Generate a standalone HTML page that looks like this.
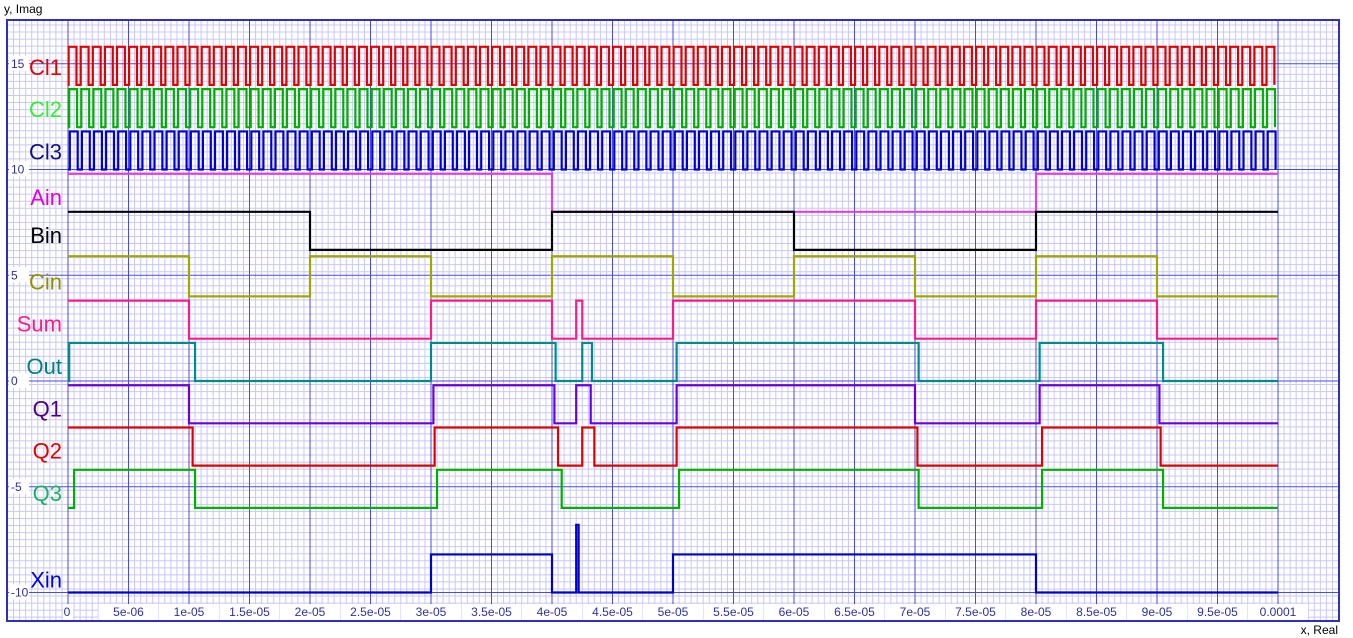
<!DOCTYPE html>
<html><head><meta charset="utf-8"><style>
body{margin:0;background:#fff;width:1353px;height:638px;overflow:hidden;font-family:"Liberation Sans",sans-serif}
svg{display:block}
</style></head><body>
<svg id="c" width="1353" height="638"></svg>
<script>
const xTicks=[0,5e-6,1e-5,1.5e-5,2e-5,2.5e-5,3e-5,3.5e-5,4e-5,4.5e-5,5e-5,5.5e-5,6e-5,6.5e-5,7e-5,7.5e-5,8e-5,8.5e-5,9e-5,9.5e-5,1e-4];
const xTickLabels=["0","5e-06","1e-05","1.5e-05","2e-05","2.5e-05","3e-05","3.5e-05","4e-05","4.5e-05","5e-05","5.5e-05","6e-05","6.5e-05","7e-05","7.5e-05","8e-05","8.5e-05","9e-05","9.5e-05","0.0001"];
const yTicks=[15,10,5,0,-5,-10];
const yTickLabels=["15","10","5","0","-5","-10"];
// clocks: names, low level, high level, period, phase offset, duty
const clkNames=["Cl1","Cl2","Cl3"];
const clkLow=[14,12,10];
const clkHigh=[15.8,13.8,11.8];
const clkPeriod=[1e-6,1e-6,1e-6];
const clkPhase=[0.05e-6,0.1e-6,0.15e-6];
const clkDuty=[0.65,0.65,0.65];
const clkColors=["#e00000","#00b000","#0000d0"];
// digital signals: transition times and states
const sigNames=["Ain","Bin","Cin","Sum","Out","Q1","Q2","Q3","Xin"];
const sigLow=[8,6.2,4,2,0,-2,-4,-6,-10];
const sigHigh=[9.8,8,5.9,3.8,1.8,-0.2,-2.2,-4.2,-8.2];
const sigTimes=[
 [0,4e-5,8e-5],
 [0,2e-5,4e-5,6e-5,8e-5],
 [0,1e-5,2e-5,3e-5,4e-5,5e-5,6e-5,7e-5,8e-5,9e-5],
 [0,1e-5,3e-5,4e-5,4.2e-5,4.25e-5,5e-5,7e-5,8e-5,9e-5],
 [0,0.01e-5,1.05e-5,3e-5,4.03e-5,4.25e-5,4.33e-5,5.03e-5,7.03e-5,8.03e-5,9.05e-5],
 [0,1e-5,3.02e-5,4.02e-5,4.2e-5,4.32e-5,5.03e-5,7e-5,8.03e-5,9.02e-5],
 [0,1.03e-5,3.03e-5,4.05e-5,4.25e-5,4.35e-5,5.03e-5,7.02e-5,8.05e-5,9.03e-5],
 [0,0.05e-5,1.05e-5,3.05e-5,4.08e-5,5.05e-5,7.03e-5,8.05e-5,9.05e-5],
 [0,3e-5,4e-5,4.2e-5,4.22e-5,5e-5,8e-5]
];
const sigStates=[
 [1,0,1],[1,0,1,0,1],[1,0,1,0,1,0,1,0,1,0],[1,0,1,0,1,0,1,0,1,0],
 [0,1,0,1,0,1,0,1,0,1,0],[1,0,1,0,1,0,1,0,1,0],[1,0,1,0,1,0,1,0,1,0],
 [0,1,0,1,0,1,0,1,0],[0,1,0,2,0,1,0]
];
const sigColors=["#e040e0","#000000","#a0a800","#ff1a8c","#008b8b","#6a00e0","#e00000","#00b000","#0000c8"];
const labelColors=["#e000e0","#000000","#909000","#ff1a8c","#008080","#4b0082","#e00000","#20b060","#0000e0"];
const spikeLevel=-6.8;
const tEnd=1e-4;

const X=t=>68+t*(1278-68)/1e-4;
const Y=v=>381-v*21.15;
const NS="http://www.w3.org/2000/svg";
const svg=document.getElementById('c');
function el(tag,attrs,parent){const e=document.createElementNS(NS,tag);for(const k in attrs)e.setAttribute(k,attrs[k]);(parent||svg).appendChild(e);return e;}

const grid=el('g',{});


for(let x=68-6.05*10;x<1339;x+=6.05){if(x>7)el('line',{x1:x,y1:20,x2:x,y2:621,stroke:'#c8c8f8','stroke-width':1},grid);}
for(let v=-11.5;v<=19;v+=1/3){const y=Y(v);if(y>20&&y<621)el('line',{x1:7,y1:y,x2:1339,y2:y,stroke:'#c8c8f8','stroke-width':1},grid);}
for(let k=-1;k<22;k++){const x=X(k*5e-6);if(x>7&&x<1339)el('line',{x1:x,y1:20,x2:x,y2:621,stroke:'#4a4ae0','stroke-width':1},grid);}
for(let v=-10;v<=15;v+=5){el('line',{x1:7,y1:Y(v),x2:1339,y2:Y(v),stroke:'#4a4ae0','stroke-width':1},grid);}
const fr=el('rect',{x:7,y:20,width:1332,height:601,fill:'none',stroke:'#3030c0','stroke-width':2});



xTicks.forEach((t,i)=>{el('rect',{x:X(t)-(i==0?5:30),y:604,width:i==0?10:60,height:16,fill:'#fff'});
 const tx=el('text',{x:X(t)+(i==0?-1:0),y:616,'font-size':12,fill:'#3030a0','text-anchor':'middle'});tx.textContent=xTickLabels[i];
 
 });
yTicks.forEach((v,i)=>{el('rect',{x:9,y:Y(v)-8,width:20,height:15,fill:'#fff'});
 const tx=el('text',{x:11,y:Y(v)+4,'font-size':12,fill:'#3030a0'});tx.textContent=yTickLabels[i];
 
 });
let t1=el('text',{x:4,y:13,'font-size':12,fill:'#000'});t1.textContent='y, Imag';


let t2=el('text',{x:1338,y:634,'font-size':12,fill:'#000','text-anchor':'end'});t2.textContent='x, Real';



function label(name,vlow,color,dy){const tx=el('text',{x:62,y:Y(vlow)+dy,'font-size':22,fill:color,'text-anchor':'end'});tx.textContent=name;
 
 }

clkNames.forEach((n,i)=>{let d='M'+X(0)+' '+Y(clkLow[i]);let t=clkPhase[i];
 while(t<tEnd){const th=t, tl=Math.min(t+clkPeriod[i]*clkDuty[i],tEnd);
  d+=' L'+X(th)+' '+Y(clkLow[i])+' L'+X(th)+' '+Y(clkHigh[i])+' L'+X(tl)+' '+Y(clkHigh[i])+' L'+X(tl)+' '+Y(clkLow[i]);
  t+=clkPeriod[i];}
 const p=el('path',{d:d,fill:'none',stroke:clkColors[i],'stroke-width':2.2});
 
 
 label(n,clkLow[i],i==1?'#33ee33':(i==2?'#101080':clkColors[i]),-10);});

sigNames.forEach((n,i)=>{const ts=sigTimes[i],ss=sigStates[i];
 const lv=s=>s==2?spikeLevel:(s?sigHigh[i]:sigLow[i]);
 let d='M'+X(ts[0])+' '+Y(lv(ss[0]));
 for(let k=0;k<ts.length;k++){const te=k+1<ts.length?ts[k+1]:tEnd;
  d+=' L'+X(ts[k])+' '+Y(lv(ss[k]))+' L'+X(te)+' '+Y(lv(ss[k]));}
 const p=el('path',{d:d,fill:'none',stroke:sigColors[i],'stroke-width':2.2});
 
 
 label(n,sigLow[i],labelColors[i],n==='Xin'?-5:-7);});
</script>
</body></html>
